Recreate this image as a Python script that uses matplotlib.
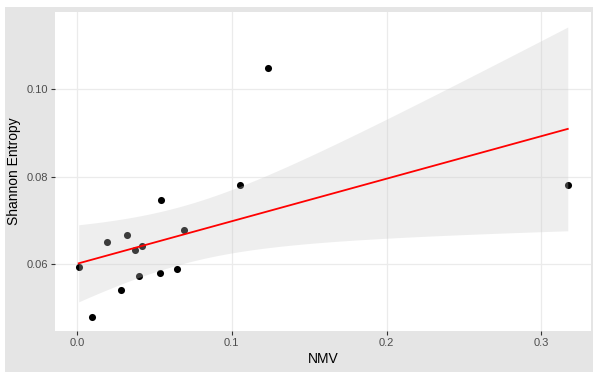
import numpy as np
import matplotlib
matplotlib.use('Agg')
import matplotlib.pyplot as plt
from matplotlib.patches import Rectangle

plt.rcParams['font.family'] = ['Liberation Sans', 'DejaVu Sans']

# data
nmv = [0.0011, 0.0099, 0.0192, 0.0282, 0.0323, 0.0373, 0.0403, 0.0423,
       0.0543, 0.0539, 0.0644, 0.0692, 0.1050, 0.1231, 0.3170]
entropy = [0.0594, 0.0480, 0.0651, 0.0541, 0.0668, 0.0633, 0.0573, 0.0643,
           0.0747, 0.0581, 0.0589, 0.0678, 0.0782, 0.1049, 0.0781]
xticks = [0.0, 0.1, 0.2, 0.3]
xticklabels = ['0.0', '0.1', '0.2', '0.3']
yticks = [0.06, 0.08, 0.10]
yticklabels = ['0.06', '0.08', '0.10']

x = np.array(nmv)
y = np.array(entropy)

# linear fit + 95% confidence band (like geom_smooth(method='lm'))
n = len(x)
slope, intercept = np.polyfit(x, y, 1)
resid = y - (intercept + slope * x)
s = np.sqrt(np.sum(resid**2) / (n - 2))
t_crit = 2.160  # t(0.975, df=13)
xs = np.linspace(x.min(), x.max(), 80)
fit = intercept + slope * xs
se = s * np.sqrt(1.0/n + (xs - x.mean())**2 / np.sum((x - x.mean())**2))
lo = fit - t_crit * se
hi = fit + t_crit * se

W, H = 593, 372
fig = plt.figure(figsize=(W/100, H/100), dpi=100, facecolor='white')
fig.patches.append(Rectangle((5/W, 0), (W-5)/W, (H-7)/H, transform=fig.transFigure,
                             facecolor='#E5E5E5', edgecolor='none', zorder=-10))

ax = fig.add_axes([55/W, (H-331)/H, (591-55)/W, (331-12)/H])
ax.set_zorder(5)
ax.set_facecolor('white')

ax.scatter(x, y, s=26, color='black', zorder=3, linewidths=0)
ax.fill_between(xs, lo, hi, color='#C8C8C8', alpha=0.3, linewidth=0, zorder=4)
ax.plot(xs, fit, color='red', lw=1.3, zorder=5)

ax.set_xlim(-0.0142, 0.332)
ax.set_ylim(0.0448, 0.1176)
ax.set_xticks(xticks)
ax.set_xticklabels(xticklabels)
ax.set_yticks(yticks)
ax.set_yticklabels(yticklabels)
ax.grid(True, color='#EBEBEB', lw=0.9, zorder=0)
ax.set_axisbelow(True)
for sp in ax.spines.values():
    sp.set_visible(False)
ax.tick_params(axis='both', length=3, width=0.8, color='#333333',
               labelcolor='#4D4D4D', labelsize=8, pad=2)

ax.set_xlabel('NMV', fontsize=10, color='black', labelpad=3)
ax.set_ylabel('Shannon Entropy', fontsize=10, color='black', labelpad=4)

fig.savefig('out.png', dpi=100, facecolor=fig.get_facecolor())
